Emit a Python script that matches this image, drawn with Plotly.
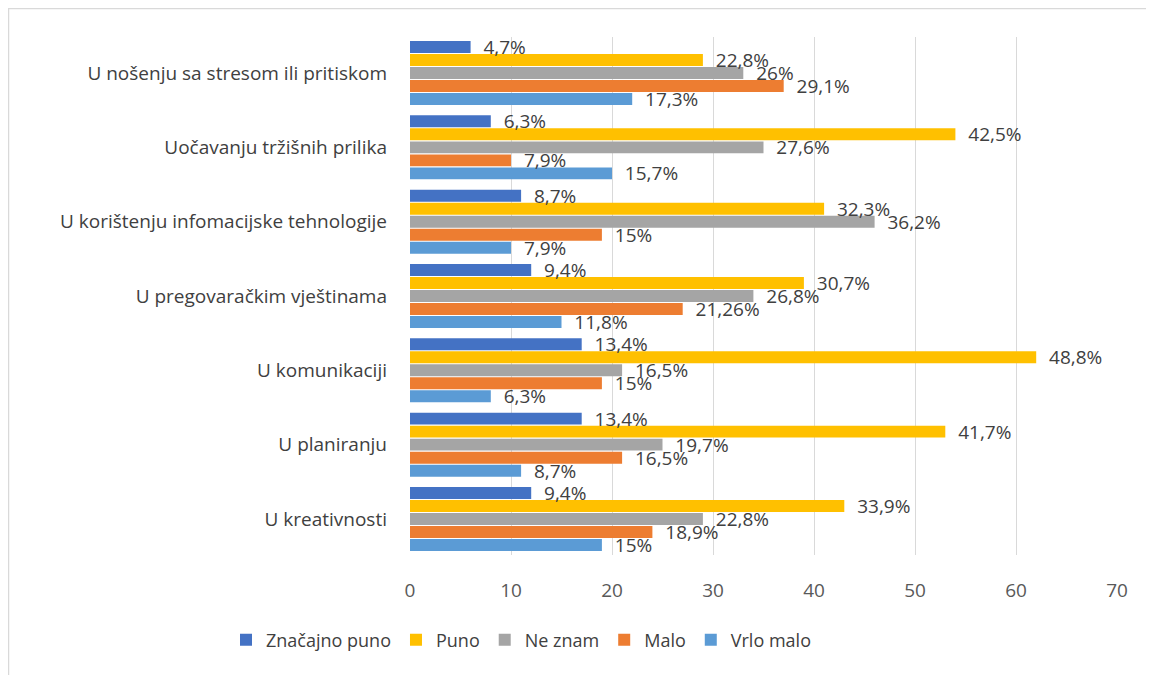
import plotly.graph_objects as go

categories = [
    "U kreativnosti",
    "U planiranju",
    "U komunikaciji",
    "U pregovaračkim vještinama",
    "U korištenju infomacijske tehnologije",
    "Uočavanju tržišnih prilika",
    "U nošenju sa stresom ili pritiskom",
]

# counts (bar length) and percentage labels, ordered as categories above
vrlo_malo = [19, 11, 8, 15, 10, 20, 22]
vrlo_malo_lbl = ["15%", "8,7%", "6,3%", "11,8%", "7,9%", "15,7%", "17,3%"]
malo = [24, 21, 19, 27, 19, 10, 37]
malo_lbl = ["18,9%", "16,5%", "15%", "21,26%", "15%", "7,9%", "29,1%"]
ne_znam = [29, 25, 21, 34, 46, 35, 33]
ne_znam_lbl = ["22,8%", "19,7%", "16,5%", "26,8%", "36,2%", "27,6%", "26%"]
puno = [43, 53, 62, 39, 41, 54, 29]
puno_lbl = ["33,9%", "41,7%", "48,8%", "30,7%", "32,3%", "42,5%", "22,8%"]
znacajno = [12, 17, 17, 12, 11, 8, 6]
znacajno_lbl = ["9,4%", "13,4%", "13,4%", "9,4%", "8,7%", "6,3%", "4,7%"]

x_ticks = [0, 10, 20, 30, 40, 50, 60, 70]

FONT = "Open Sans"
TXT = "#404040"
FS = 19
PAD = "\u00a0\u00a0"  # small gap between bar end and its label

series = [
    ("Vrlo malo", vrlo_malo, vrlo_malo_lbl, "#5B9BD5"),
    ("Malo", malo, malo_lbl, "#ED7D31"),
    ("Ne znam", ne_znam, ne_znam_lbl, "#A5A5A5"),
    ("Puno", puno, puno_lbl, "#FFC000"),
    ("Značajno puno", znacajno, znacajno_lbl, "#4472C4"),
]

fig = go.Figure()
for name, vals, lbls, col in series:
    fig.add_trace(go.Bar(
        y=categories, x=vals, name=name, orientation="h",
        marker=dict(color=col, line=dict(width=0)),
        text=[PAD + t for t in lbls], textposition="outside",
        constraintext="none", cliponaxis=False,
        textfont=dict(family=FONT, size=FS, color=TXT),
        hoverinfo="x+y+name",
    ))

# page body has an 8px margin; figure sized to fit the window
W, H = 1146, 667
L, R, T, B = 402, 37, 29, 120
pw, ph = W - L - R, H - T - B

fig.update_layout(
    width=W, height=H,
    margin=dict(l=L, r=R, t=T, b=B),
    barmode="group", bargap=0.125, bargroupgap=0.08,
    plot_bgcolor="white", paper_bgcolor="white",
    font=dict(family=FONT, size=FS, color=TXT),
    showlegend=True,
    legend=dict(
        orientation="h", traceorder="reversed",
        x=(513 - L) / pw, xanchor="center",
        y=(H - B - 632) / ph, yanchor="middle",
        font=dict(family=FONT, size=18, color=TXT),
        itemwidth=30, itemsizing="constant",
    ),
    xaxis=dict(
        range=[0, 70], tickvals=x_ticks, showgrid=True, gridcolor="#D9D9D9",
        gridwidth=1, zeroline=False, showline=False, ticks="",
        tickfont=dict(family=FONT, size=FS, color="#595959"),
        ticklabelstandoff=22, fixedrange=True,
    ),
    yaxis=dict(
        categoryorder="array", categoryarray=categories,
        range=[-0.485, 6.485], showgrid=False, zeroline=False,
        showline=False, ticks="",
        tickfont=dict(family=FONT, size=FS, color="#404040"),
        ticklabelstandoff=22, fixedrange=True,
    ),
    shapes=[
        dict(type="line", xref="paper", yref="paper",
             x0=(0 - L) / pw, x1=(W - L) / pw,
             y0=(H - B - 0.5) / ph, y1=(H - B - 0.5) / ph,
             line=dict(color="#D9D9D9", width=1.5)),
        dict(type="line", xref="paper", yref="paper",
             x0=(0.5 - L) / pw, x1=(0.5 - L) / pw,
             y0=(H - B) / ph, y1=(H - B - H) / ph,
             line=dict(color="#D9D9D9", width=1.5)),
    ],
)

fig.write_html("out.html")
